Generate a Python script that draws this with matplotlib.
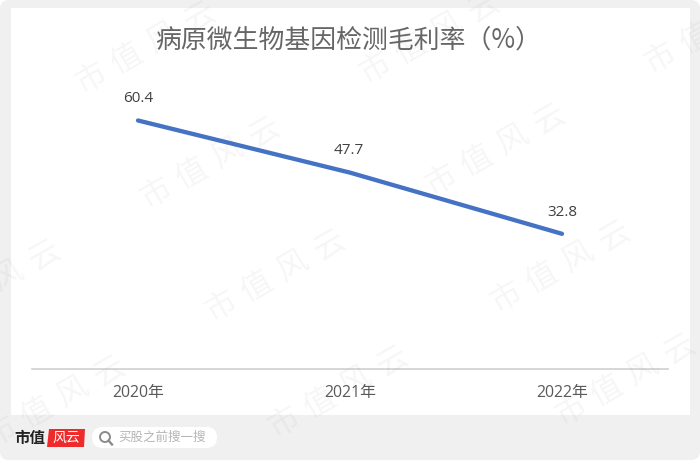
import math
import matplotlib
matplotlib.use('Agg')
import matplotlib.pyplot as plt
from matplotlib.patches import FancyBboxPatch, Rectangle, Circle, Polygon
from matplotlib.lines import Line2D

CJK = ['Noto Sans CJK SC', 'DejaVu Sans']
LATIN = ['Open Sans', 'Noto Sans CJK SC', 'DejaVu Sans']
plt.rcParams['font.family'] = CJK

title = '病原微生物基因检测毛利率（%）'
categories = ['2020年', '2021年', '2022年']
values = [60.4, 47.7, 32.8]
value_labels = ['60.4', '47.7', '32.8']
label_px = [(138, 99), (349, 151), (562, 213)]
watermark_chars = ['市', '值', '风', '云']
watermark_centers = [(145, 48), (210, 163), (275, 276), (338, 392), (55, 402), (-10, 286),
                     (429, 38), (495, 150), (560, 267), (625, 380), (714, 28)]

W, H = 700, 463
fig = plt.figure(figsize=(W / 100, H / 100), dpi=100, facecolor='white')
bg = fig.add_axes([0, 0, 1, 1])
bg.set_xlim(0, W); bg.set_ylim(H, 0); bg.axis('off')
bg.add_patch(FancyBboxPatch((0, 0), W, 460, boxstyle='round,pad=0,rounding_size=9',
                            fc='#f0f0f0', ec='none'))
bg.add_patch(Rectangle((11, 8), 678.5, 407, fc='white', ec='none'))

# footer
bg.text(14, 438.5, '市值', fontsize=11.2, fontweight='bold', color='#222222', va='center', ha='left')
bg.add_patch(Polygon([(49, 429), (85, 429), (84, 447), (47, 447)], closed=True, fc='#ee2a2a', ec='none'))
bg.text(66, 437.5, '风云', fontsize=10, color='white', va='center', ha='center')
bg.add_patch(FancyBboxPatch((92, 427), 125, 21, boxstyle='round,pad=0,rounding_size=10.5',
                            fc='white', ec='none'))
bg.add_patch(Circle((105, 437), 5, fc='none', ec='#8c8c8c', lw=1.4))
bg.add_line(Line2D([108.5, 112], [440.5, 444.5], color='#8c8c8c', lw=1.7))
bg.text(118, 437, '买股之前搜一搜', fontsize=9, color='#b5b5b5', va='center', ha='left')

# chart
left, right, top, bottom = 32, 668, 40, 368.5
ax = fig.add_axes([left / W, 1 - bottom / H, (right - left) / W, (bottom - top) / H])
ax.patch.set_alpha(0)
ax.plot(range(3), values, color='#4472c4', lw=3.1, solid_capstyle='round', zorder=3)
ax.set_xlim(-0.5, 2.5); ax.set_ylim(0, 80)
ax.set_xticks(range(3)); ax.set_xticklabels(categories, fontsize=11.4, color='#595959', family=LATIN)
ax.tick_params(axis='x', length=0, pad=12)
ax.set_yticks([])
for s in ['top', 'left', 'right']:
    ax.spines[s].set_visible(False)
ax.spines['bottom'].set_color('#cccccc'); ax.spines['bottom'].set_linewidth(1.1)

for s, (x, y) in zip(value_labels, label_px):
    bg.text(x, y, s, fontsize=11, color='#404040', ha='center', va='center', family=LATIN, zorder=5)
bg.text(348, 40, title, fontsize=18.6, color='#666666', ha='center', va='center')

# watermark
top_ax = fig.add_axes([0, 0, 1, 1], zorder=10)
top_ax.set_xlim(0, W); top_ax.set_ylim(H, 0); top_ax.axis('off')
angle = 30
step = 41.5
dx, dy = step * math.cos(math.radians(angle)), -step * math.sin(math.radians(angle))
for (x, y) in watermark_centers:
    for i, ch in enumerate(watermark_chars):
        k = i - 1.5
        top_ax.text(x + k * dx, y + k * dy, ch, fontsize=22.5, color='#808080', alpha=0.07,
                    rotation=angle, ha='center', va='center', rotation_mode='anchor', clip_on=True)

fig.savefig('out.png', dpi=100, facecolor='white')
